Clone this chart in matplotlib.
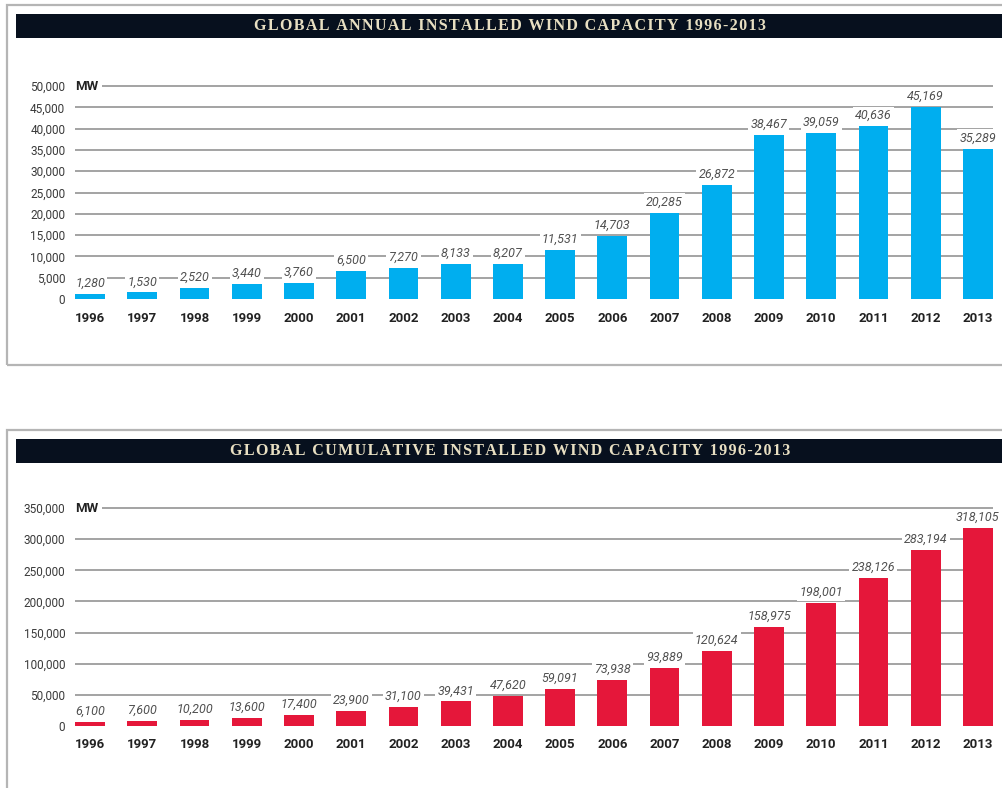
import matplotlib.pyplot as plt
from matplotlib.patches import Rectangle

years = [str(y) for y in range(1996, 2014)]

annual_mw = [1280, 1530, 2520, 3440, 3760, 6500, 7270, 8133, 8207, 11531,
             14703, 20285, 26872, 38467, 39059, 40636, 45169, 35289]
cumulative_mw = [6100, 7600, 10200, 13600, 17400, 23900, 31100, 39431, 47620,
                 59091, 73938, 93889, 120624, 158975, 198001, 238126, 283194, 318105]

annual_ticks = list(range(0, 50001, 5000))
cumulative_ticks = list(range(0, 350001, 50000))

W, H = 1003, 788
NARROW = ['Roboto', 'DejaVu Sans']
SERIF = ['Liberation Serif', 'DejaVu Serif']

fig = plt.figure(figsize=(W / 100, H / 100), dpi=100)
fig.patch.set_facecolor('white')


def fx(px):
    return px / W


def fy(py):
    return 1 - py / H


def spaced(s):
    # widen tracking with hair spaces between letters
    return '\u200a'.join(s)


def panel(box_top, box_bottom, bar_top, title, zero_px, top_px, ymax_tick,
          ticks, values, color, ylim_top):
    # outer frame
    fig.add_artist(Rectangle((fx(7), fy(box_bottom)), fx(1010) - fx(7),
                             fy(box_top) - fy(box_bottom), transform=fig.transFigure,
                             fill=False, ec='#b5b5b5', lw=1.6))
    # dark title band
    fig.add_artist(Rectangle((fx(16), fy(bar_top + 24)), fx(1003) - fx(16),
                             fy(bar_top) - fy(bar_top + 24), transform=fig.transFigure,
                             fc='#07101e', ec='none'))
    fig.text(fx(510), fy(bar_top + 12), spaced(title), color='#e8dfc2', family=SERIF,
             fontweight='bold', fontsize=11.5, ha='center', va='center')

    px_per_unit = (zero_px - top_px) / ymax_tick
    ax_top = zero_px - px_per_unit * ylim_top
    ax = fig.add_axes([fx(75), fy(zero_px), fx(993) - fx(75), fy(ax_top) - fy(zero_px)])
    ax.set_xlim(-0.29, 17.29)
    ax.set_ylim(0, ylim_top)
    for s in ax.spines.values():
        s.set_visible(False)
    ax.set_facecolor('none')

    for t in ticks[1:]:
        ax.axhline(t, color='#8a8a8a', lw=1.1, zorder=1)

    ax.set_yticks(ticks)
    ax.set_yticklabels([f'{t:,}' for t in ticks], family=NARROW, fontsize=8.5,
                       color='#3a3a3a')
    ax.tick_params(axis='y', length=0, pad=7)
    ax.set_xticks(range(len(years)))
    ax.set_xticklabels(years, family=NARROW, fontsize=9.5, fontweight='bold',
                       color='#222222')
    ax.tick_params(axis='x', length=0, pad=9)

    ax.text(-0.29, ticks[-1], 'MW', family=NARROW, fontsize=9.5, fontweight='bold',
            color='#222222', ha='left', va='center', zorder=4,
            bbox=dict(fc='white', ec='none', pad=2.5))

    ax.bar(range(len(years)), values, width=0.57, color=color, zorder=3)
    for i, v in enumerate(values):
        ax.annotate(f'{v:,}', (i, v), xytext=(0, 3), textcoords='offset points',
                    ha='center', va='bottom', family=NARROW, fontsize=9,
                    style='italic', color='#505050', zorder=4,
                    bbox=dict(fc='white', ec='none', pad=1.5))
    return ax


panel(5, 365, 14, 'GLOBAL ANNUAL INSTALLED WIND CAPACITY 1996-2013',
      299, 86, 50000, annual_ticks, annual_mw, '#00aeef', 52000)
panel(430, 800, 439, 'GLOBAL CUMULATIVE INSTALLED WIND CAPACITY 1996-2013',
      726, 508, 350000, cumulative_ticks, cumulative_mw, '#e5173a', 362000)

fig.savefig('out.png', dpi=100)
